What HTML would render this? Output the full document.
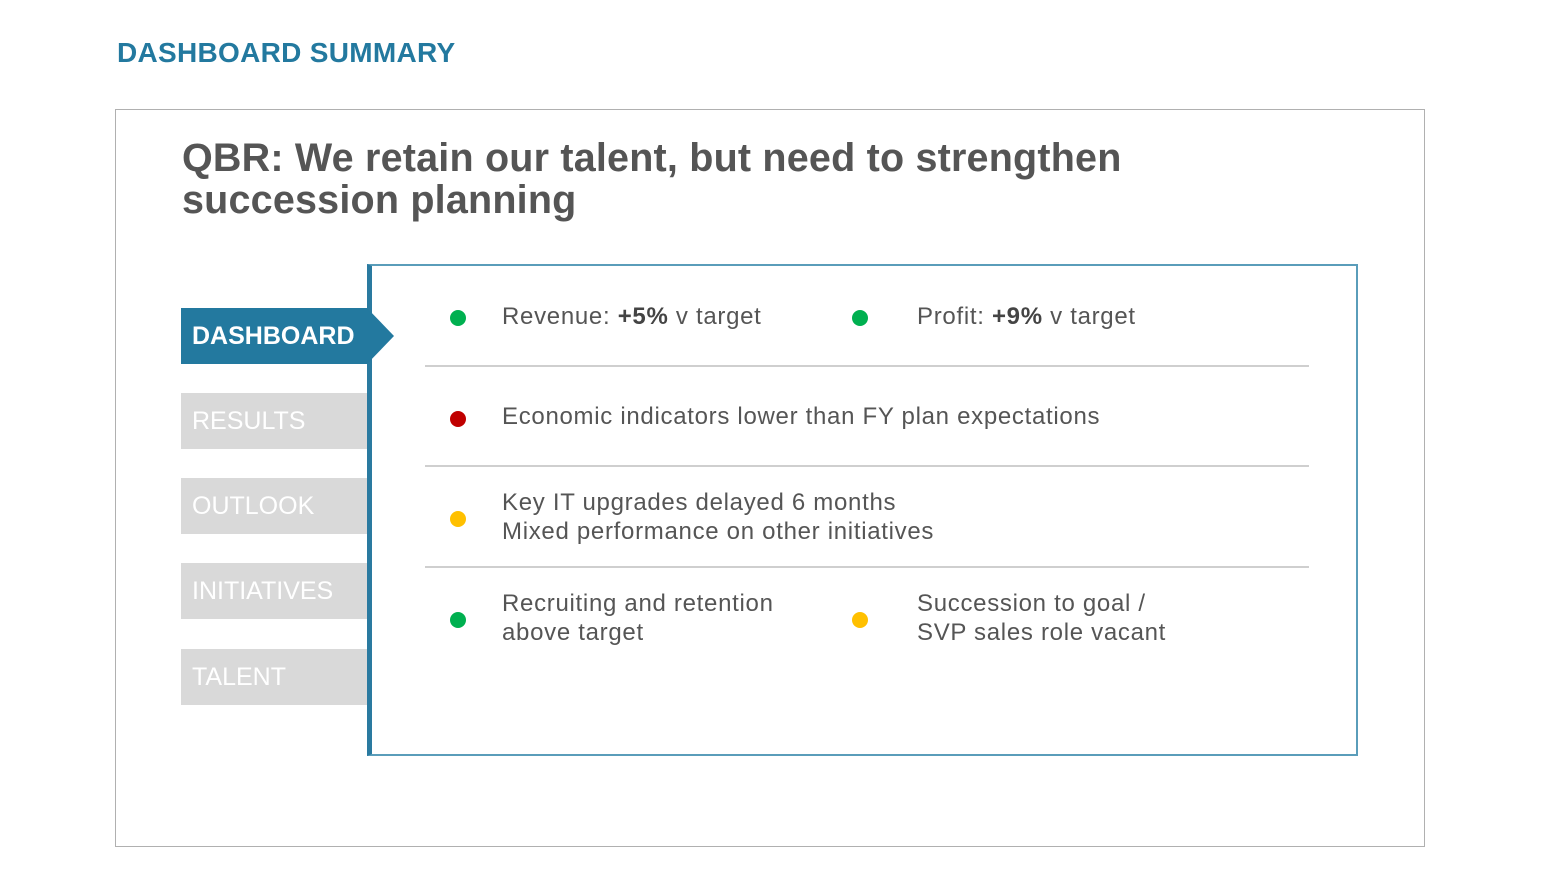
<!DOCTYPE html>
<html><head><style>
body{margin:0;width:1565px;height:880px;background:#fff;position:relative;overflow:hidden;font-family:"Liberation Sans",sans-serif;}
.a{position:absolute;}
.h{left:117px;top:37px;font-size:28px;font-weight:bold;color:#23799f;letter-spacing:0.3px;}
.frame{left:115px;top:109px;width:1308px;height:736px;border:1px solid #b0b0b0;}
.title{left:182px;top:137px;font-size:39.5px;font-weight:bold;color:#555;line-height:42px;letter-spacing:0.2px;}
.panel{left:367px;top:264px;width:984px;height:488px;border:2px solid #5a9dba;border-left:5px solid #2a7aa0;}
.tab{left:181px;width:186px;height:56px;background:#d9d9d9;color:#fff;font-size:25px;line-height:56px;padding-left:11px;box-sizing:border-box;}
.dash{background:#23799f;font-weight:bold;top:308px;}
.arrow{left:367px;top:308px;width:0;height:0;border-top:28px solid transparent;border-bottom:28px solid transparent;border-left:27px solid #23799f;}
.line{left:425px;width:884px;height:2px;background:#cfcfcf;}
.dot{width:16px;height:16px;border-radius:50%;}
.g{background:#00b050}.r{background:#c00000}.y{background:#ffc000}
.t{font-size:24px;color:#555;line-height:29px;letter-spacing:0.7px;}
.t b{color:#444;}
</style></head><body>
<div class="a h">DASHBOARD SUMMARY</div>
<div class="a frame"></div>
<div class="a title">QBR: We retain our talent, but need to strengthen<br>succession planning</div>
<div class="a panel"></div>
<div class="a tab dash">DASHBOARD</div>
<div class="a arrow"></div>
<div class="a tab" style="top:393px">RESULTS</div>
<div class="a tab" style="top:478px">OUTLOOK</div>
<div class="a tab" style="top:563px">INITIATIVES</div>
<div class="a tab" style="top:649px">TALENT</div>

<div class="a dot g" style="left:450px;top:310px"></div>
<div class="a t" style="left:502px;top:302px">Revenue: <b>+5%</b> v target</div>
<div class="a dot g" style="left:852px;top:310px"></div>
<div class="a t" style="left:917px;top:302px">Profit: <b>+9%</b> v target</div>
<div class="a line" style="top:365px"></div>

<div class="a dot r" style="left:450px;top:411px"></div>
<div class="a t" style="left:502px;top:402px">Economic indicators lower than FY plan expectations</div>
<div class="a line" style="top:465px"></div>

<div class="a dot y" style="left:450px;top:511px"></div>
<div class="a t" style="left:502px;top:488px">Key IT upgrades delayed 6 months<br>Mixed performance on other initiatives</div>
<div class="a line" style="top:566px"></div>

<div class="a dot g" style="left:450px;top:612px"></div>
<div class="a t" style="left:502px;top:589px">Recruiting and retention<br>above target</div>
<div class="a dot y" style="left:852px;top:612px"></div>
<div class="a t" style="left:917px;top:589px">Succession to goal /<br>SVP sales role vacant</div>
</body></html>
